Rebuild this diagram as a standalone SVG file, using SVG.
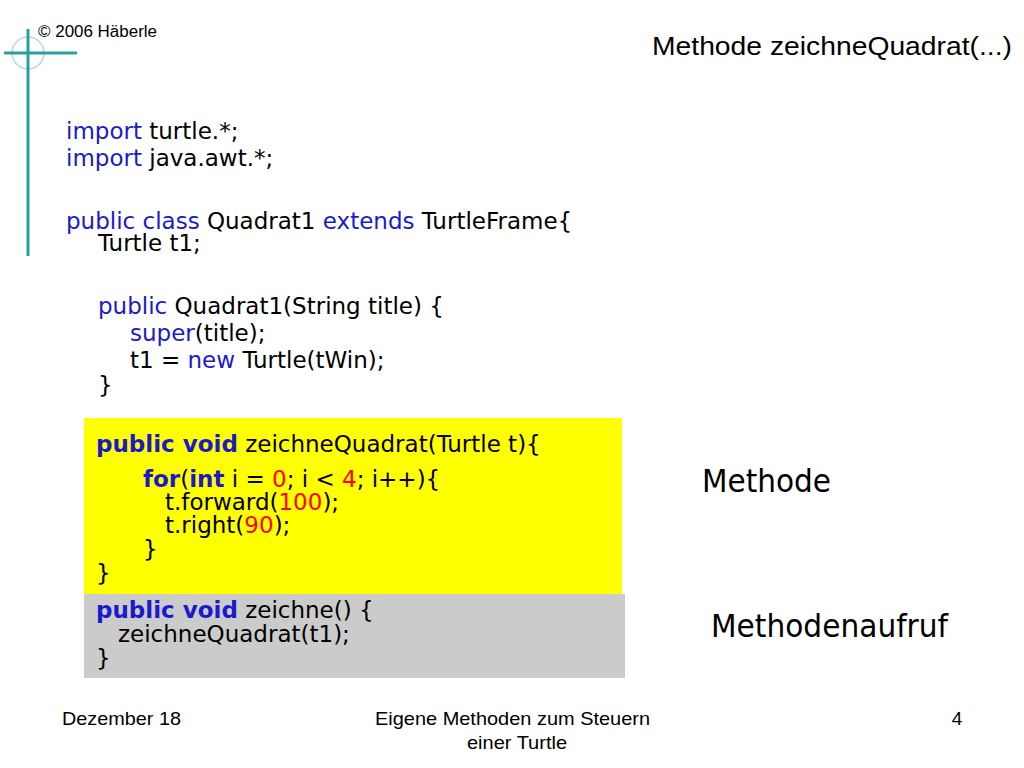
<svg xmlns="http://www.w3.org/2000/svg" width="1024" height="768" viewBox="0 0 1024 768">
<style>
.code{font-family:"DejaVu Sans","Verdana",sans-serif;font-size:23px;fill:#000}
.kw{fill:#1a1acc}
.b{font-weight:bold}
.num{fill:#ff0000}
.sans{font-family:"Liberation Sans",Arial,sans-serif;fill:#000}
.lbl{font-family:"DejaVu Sans Condensed","DejaVu Sans",sans-serif;font-size:32px;fill:#000}
</style>
<rect width="1024" height="768" fill="#fff"/>
<g id="logo">
<circle cx="28" cy="53" r="16" fill="none" stroke="#b4dcdc" stroke-width="1.5"/>
<line x1="28" y1="29" x2="28" y2="256" stroke="#2a9f9f" stroke-width="3"/>
<line x1="4" y1="53" x2="77" y2="53" stroke="#2a9f9f" stroke-width="3"/>
<text class="sans" x="38" y="37" font-size="16" textLength="119" lengthAdjust="spacingAndGlyphs">© 2006 Häberle</text>
</g>
<g id="title">
<text class="sans" x="652" y="55" font-size="26" textLength="360" lengthAdjust="spacingAndGlyphs">Methode zeichneQuadrat(...)</text>
</g>
<g id="code-top">
<text class="code" x="66" y="139"><tspan class="kw">import</tspan> turtle.*;</text>
<text class="code" x="66" y="166"><tspan class="kw">import</tspan> java.awt.*;</text>
<text class="code" x="66" y="229"><tspan class="kw">public class</tspan> Quadrat1 <tspan class="kw">extends</tspan> TurtleFrame{</text>
<text class="code" x="98" y="251">Turtle t1;</text>
<text class="code" x="98" y="314"><tspan class="kw">public</tspan> Quadrat1(String title) {</text>
<text class="code" x="130" y="341"><tspan class="kw">super</tspan>(title);</text>
<text class="code" x="130" y="368">t1 = <tspan class="kw">new</tspan> Turtle(tWin);</text>
<text class="code" x="98" y="393">}</text>
</g>
<g id="method-box">
<rect x="84" y="418" width="538" height="176" fill="#ffff00"/>
<text class="code" x="96" y="452"><tspan class="kw b">public void</tspan> zeichneQuadrat(Turtle t){</text>
<text class="code" x="143" y="487"><tspan class="kw b">for</tspan>(<tspan class="kw b">int</tspan> i = <tspan class="num">0</tspan>; i &lt; <tspan class="num">4</tspan>; i++){</text>
<text class="code" x="165" y="510">t.forward(<tspan class="num">100</tspan>);</text>
<text class="code" x="165" y="533">t.right(<tspan class="num">90</tspan>);</text>
<text class="code" x="143" y="557">}</text>
<text class="code" x="96" y="581">}</text>
</g>
<g id="call-box">
<rect x="84" y="594" width="541" height="84" fill="#cbcbcb"/>
<text class="code" x="96" y="618"><tspan class="kw b">public void</tspan> zeichne() {</text>
<text class="code" x="118" y="642">zeichneQuadrat(t1);</text>
<text class="code" x="96" y="666">}</text>
</g>
<g id="labels">
<text class="lbl" x="702" y="492" textLength="129" lengthAdjust="spacingAndGlyphs">Methode</text>
<text class="lbl" x="711" y="637" textLength="237" lengthAdjust="spacingAndGlyphs">Methodenaufruf</text>
</g>
<g id="connectors"></g>
<g id="footer">
<text class="sans" x="62" y="725" font-size="19" textLength="119" lengthAdjust="spacingAndGlyphs">Dezember 18</text>
<text class="sans" x="375" y="725" font-size="19" textLength="275" lengthAdjust="spacingAndGlyphs">Eigene Methoden zum Steuern</text>
<text class="sans" x="467" y="749" font-size="19" textLength="100" lengthAdjust="spacingAndGlyphs">einer Turtle</text>
<text class="sans" x="957" y="725" font-size="19" text-anchor="middle">4</text>
</g>
</svg>
